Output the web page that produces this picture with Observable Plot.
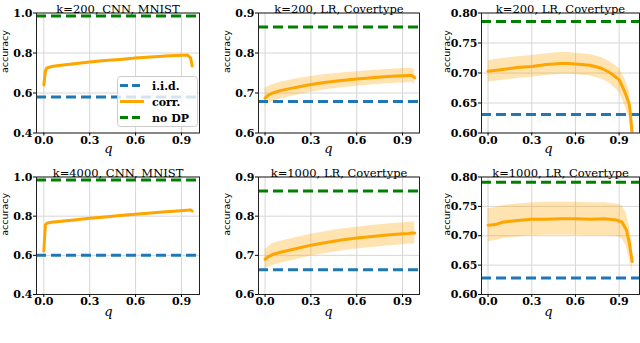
<!DOCTYPE html>
<html><head><meta charset="utf-8">
<script src="https://cdn.jsdelivr.net/npm/d3@7"></script>
<script src="https://cdn.jsdelivr.net/npm/@observablehq/plot@0.6"></script>
<style>
body{margin:0;background:#fff;}
#wrap{position:relative;width:640px;height:343px;overflow:hidden;background:#fff;}
.panel{position:absolute;}
.legend{position:absolute;}
</style></head><body><div id="wrap"></div>
<script>
// ---- data ----
const titles = ["k=200, CNN, MNIST","k=200, LR, Covertype","k=200, LR, Covertype","k=4000, CNN, MNIST","k=1000, LR, Covertype","k=1000, LR, Covertype"];
const qTicks = [0, 0.3, 0.6, 0.9];
const yTicksCNN = [0.4, 0.6, 0.8, 1.0];
const yTicksLR = [0.6, 0.7, 0.8, 0.9];
const yTicksLR2 = [0.60, 0.65, 0.70, 0.75, 0.80];
const iidVals = [0.58, 0.679, 0.631, 0.60, 0.663, 0.628];
const nodpVals = [0.985, 0.865, 0.786, 0.985, 0.864, 0.791];
const legendLabels = ["i.i.d.", "corr.", "no DP"];

const qA = [0, 0.01, 0.02, 0.05, 0.1, 0.2, 0.3, 0.4, 0.5, 0.6, 0.7, 0.8, 0.9, 0.94, 0.96, 0.97];
const corrA = [0.64, 0.71, 0.725, 0.732, 0.737, 0.746, 0.755, 0.762, 0.768, 0.775, 0.78, 0.785, 0.789, 0.789, 0.775, 0.735];
const loA = [0.632, 0.704, 0.72, 0.728, 0.733, 0.742, 0.751, 0.758, 0.764, 0.771, 0.776, 0.781, 0.785, 0.785, 0.77, 0.727];
const hiA = [0.648, 0.716, 0.73, 0.736, 0.741, 0.75, 0.759, 0.766, 0.772, 0.779, 0.784, 0.789, 0.793, 0.793, 0.78, 0.743];

const qB = [0, 0.02, 0.05, 0.1, 0.2, 0.3, 0.4, 0.5, 0.6, 0.7, 0.8, 0.9, 0.94, 0.96, 0.98];
const corrB = [0.687, 0.694, 0.700, 0.706, 0.714, 0.721, 0.727, 0.731, 0.735, 0.738, 0.741, 0.743, 0.744, 0.744, 0.738];
const loB = [0.666, 0.673, 0.679, 0.685, 0.694, 0.702, 0.708, 0.713, 0.717, 0.72, 0.723, 0.725, 0.726, 0.726, 0.721];
const hiB = [0.712, 0.716, 0.721, 0.727, 0.735, 0.741, 0.746, 0.75, 0.753, 0.756, 0.759, 0.761, 0.762, 0.762, 0.756];

const qC = [0, 0.1, 0.2, 0.3, 0.4, 0.5, 0.55, 0.6, 0.7, 0.78, 0.84, 0.9, 0.94, 0.97, 0.98, 0.99];
const corrC = [0.703, 0.706, 0.709, 0.711, 0.714, 0.716, 0.716, 0.715, 0.713, 0.708, 0.700, 0.689, 0.668, 0.648, 0.625, 0.598];
const loC = [0.685, 0.688, 0.691, 0.693, 0.696, 0.698, 0.698, 0.697, 0.695, 0.69, 0.682, 0.668, 0.646, 0.625, 0.603, 0.578];
const hiC = [0.721, 0.724, 0.727, 0.729, 0.732, 0.734, 0.734, 0.733, 0.731, 0.726, 0.718, 0.708, 0.69, 0.671, 0.647, 0.62];

const qD = [0, 0.01, 0.02, 0.05, 0.1, 0.2, 0.3, 0.4, 0.5, 0.6, 0.7, 0.8, 0.9, 0.95, 0.96, 0.97];
const corrD = [0.622, 0.755, 0.764, 0.769, 0.773, 0.781, 0.789, 0.796, 0.803, 0.81, 0.816, 0.822, 0.828, 0.831, 0.832, 0.826];
const loD = [0.614, 0.75, 0.76, 0.765, 0.769, 0.777, 0.785, 0.792, 0.799, 0.806, 0.812, 0.818, 0.824, 0.827, 0.828, 0.821];
const hiD = [0.63, 0.76, 0.768, 0.773, 0.777, 0.785, 0.793, 0.8, 0.807, 0.814, 0.82, 0.826, 0.832, 0.835, 0.836, 0.831];

const qE = [0, 0.02, 0.05, 0.1, 0.2, 0.3, 0.4, 0.5, 0.6, 0.7, 0.8, 0.9, 0.94, 0.96, 0.98];
const corrE = [0.69, 0.696, 0.702, 0.708, 0.717, 0.726, 0.733, 0.739, 0.744, 0.748, 0.752, 0.755, 0.756, 0.757, 0.757];
const loE = [0.665, 0.669, 0.674, 0.68, 0.689, 0.698, 0.705, 0.711, 0.716, 0.72, 0.724, 0.727, 0.728, 0.729, 0.729];
const hiE = [0.714, 0.722, 0.73, 0.736, 0.745, 0.754, 0.761, 0.767, 0.772, 0.776, 0.78, 0.783, 0.784, 0.785, 0.785];

const qF = [0, 0.05, 0.1, 0.2, 0.3, 0.4, 0.5, 0.6, 0.7, 0.8, 0.88, 0.92, 0.95, 0.97, 0.98, 0.99];
const corrF = [0.718, 0.719, 0.723, 0.726, 0.728, 0.728, 0.729, 0.729, 0.728, 0.729, 0.727, 0.723, 0.71, 0.688, 0.672, 0.656];
const loF = [0.69, 0.692, 0.695, 0.698, 0.700, 0.701, 0.701, 0.701, 0.700, 0.700, 0.699, 0.695, 0.682, 0.66, 0.648, 0.636];
const hiF = [0.746, 0.748, 0.751, 0.754, 0.756, 0.757, 0.757, 0.757, 0.756, 0.756, 0.754, 0.751, 0.738, 0.716, 0.7, 0.684];

// ---- layout ----
const COLORS = {iid: "#1f77b4", corr: "#ffa500", nodp: "#008000"};
const cols = [
  {left: 0, width: 210, mL: 36, mR: 11, xDomain: [-0.048, 1.018], accDx: -32, qDx: -9.5},
  {left: 210, width: 210, mL: 48, mR: 1, xDomain: [-0.043, 1.011], accDx: -32, qDx: -10.5},
  {left: 420, width: 220, mL: 61, mR: 1, xDomain: [-0.045, 1.04], accDx: -34.5, qDx: -12}
];
const rows = [
  {top: 0, height: 165, mT: 12.5, mB: 32.5, qDy: 19.5},
  {top: 165, height: 165, mT: 11.5, mB: 36, qDy: 21}
];
const series = [
  [qA, corrA, loA, hiA, yTicksCNN, ".1f"],
  [qB, corrB, loB, hiB, yTicksLR, ".1f"],
  [qC, corrC, loC, hiC, yTicksLR2, ".2f"],
  [qD, corrD, loD, hiD, yTicksCNN, ".1f"],
  [qE, corrE, loE, hiE, yTicksLR, ".1f"],
  [qF, corrF, loF, hiF, yTicksLR2, ".2f"]
];

const wrap = document.getElementById("wrap");
const SERIF = "'DejaVu Serif', serif";

series.forEach(([q, corr, lo, hi, yTicks, yFmt], i) => {
  const col = cols[i % 3], row = rows[Math.floor(i / 3)];
  const data = q.map((d, j) => ({q: d, corr: corr[j], lo: lo[j], hi: hi[j]}));
  const yDomain = [yTicks[0], yTicks[yTicks.length - 1]];
  const chart = Plot.plot({
    width: col.width, height: row.height,
    marginLeft: col.mL, marginRight: col.mR, marginTop: row.mT, marginBottom: row.mB,
    style: {fontFamily: SERIF, fontWeight: "bold", fontSize: "11px", color: "#000", background: "transparent", overflow: "visible"},
    x: {domain: col.xDomain},
    y: {domain: yDomain},
    marks: [
      Plot.gridX({ticks: qTicks, stroke: "#d6d6d6", strokeOpacity: 1}),
      Plot.gridY({ticks: yTicks, stroke: "#d6d6d6", strokeOpacity: 1}),
      Plot.areaY(data, {x: "q", y1: "lo", y2: "hi", fill: COLORS.corr, fillOpacity: 0.3, clip: true}),
      Plot.ruleY([iidVals[i]], {stroke: COLORS.iid, strokeWidth: 3, strokeDasharray: "10,5"}),
      Plot.lineY(data, {x: "q", y: "corr", stroke: COLORS.corr, strokeWidth: 3, clip: true}),
      Plot.ruleY([nodpVals[i]], {stroke: COLORS.nodp, strokeWidth: 3, strokeDasharray: "10,5"}),
      Plot.frame({stroke: "#222", strokeWidth: 1}),
      Plot.axisX({ticks: qTicks, tickSize: 3, tickPadding: 0, tickFormat: d3.format(".1f"), label: null}),
      Plot.axisY({ticks: yTicks, tickSize: 3, tickPadding: 1, tickFormat: d3.format(yFmt), label: null}),
      Plot.text([titles[i]], {text: d => d, frameAnchor: "top", dy: -8.5, fontFamily: SERIF, fontWeight: "normal", fontSize: 11.5}),
      Plot.text(["accuracy"], {text: d => d, frameAnchor: "left", rotate: -90, dx: col.accDx, fontFamily: "'DejaVu Sans', sans-serif", fontWeight: "normal", fontSize: 9.5}),
      Plot.text(["q"], {text: d => d, frameAnchor: "bottom", dx: col.qDx, dy: row.qDy, fontFamily: SERIF, fontStyle: "italic", fontWeight: "normal", fontSize: 13})
    ]
  });
  chart.classList.add("panel");
  chart.style.left = col.left + "px";
  chart.style.top = row.top + "px";
  wrap.appendChild(chart);
});

// ---- legend (first panel) ----
const lg = document.createElement("div");
lg.className = "legend";
lg.style.left = "117px"; lg.style.top = "76px";
const NS = "http://www.w3.org/2000/svg";
const lsvg = document.createElementNS(NS, "svg");
lsvg.setAttribute("width", 82); lsvg.setAttribute("height", 52);
const rect = document.createElementNS(NS, "rect");
Object.entries({x: 0.5, y: 0.5, width: 80, height: 50, rx: 3, fill: "rgba(255,255,255,0.8)", stroke: "#cccccc"}).forEach(([k, v]) => rect.setAttribute(k, v));
lsvg.appendChild(rect);
const lcol = [COLORS.iid, COLORS.corr, COLORS.nodp];
legendLabels.forEach((lab, j) => {
  const y = 9.5 + j * 16;
  const ln = document.createElementNS(NS, "line");
  Object.entries({x1: 3, x2: 27, y1: y, y2: y, stroke: lcol[j], "stroke-width": 3, "stroke-dasharray": j === 1 ? null : "8,4"}).forEach(([k, v]) => { if (v !== null) ln.setAttribute(k, v); });
  lsvg.appendChild(ln);
  const t = document.createElementNS(NS, "text");
  t.setAttribute("x", 35); t.setAttribute("y", y + 4);
  t.setAttribute("font-family", "DejaVu Serif"); t.setAttribute("font-weight", "bold"); t.setAttribute("font-size", 11);
  t.textContent = lab;
  lsvg.appendChild(t);
});
lg.appendChild(lsvg);
wrap.appendChild(lg);
</script>
</body></html>
